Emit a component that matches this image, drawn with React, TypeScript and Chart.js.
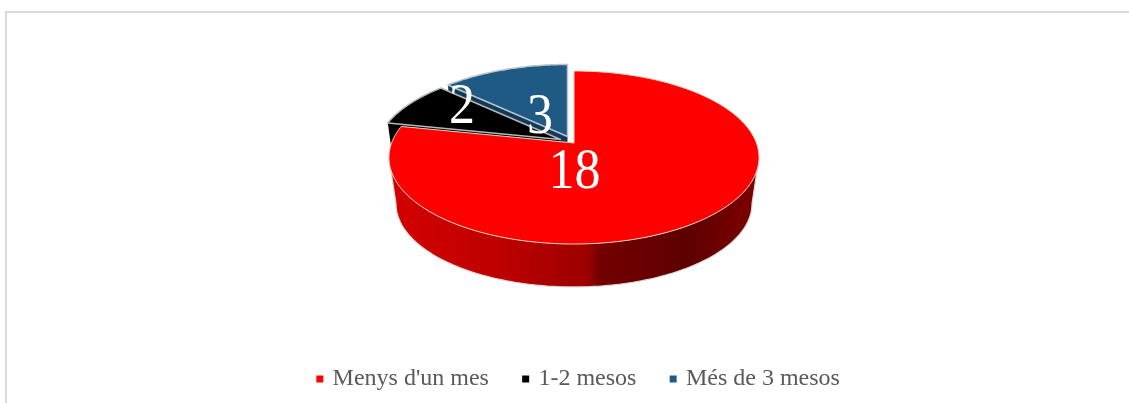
import React, { useEffect, useRef } from "react";
import { Chart, registerables, PieController } from "chart.js";

Chart.register(...registerables);

const categories = ["Menys d'un mes", "1-2 mesos", "Més de 3 mesos"];
const values = [18, 2, 3];
const sliceColors = ["#ff0000", "#000000", "#1f5a85"];
const wallColors = ["#a00000", "#000000", "#123a58"];
const sliceEdges = ["#f4d3c0", "#b4b8ba", "#b9c4cc"];

// Perspective projection of the unit disc to the page
const cx = 574;
const apexY = 143;
const kPersp = 0.1677;
const topA = 182.4;
const topB = 84.07;
const baseScale = 0.962;
const baseApexY = 189.8;
const explode = [[0, 0], [-13.5, -3.5], [-6.5, -6.5]];
const labelAnchors = [[574.5, 173], [462, 108.5], [540, 118.5]];

type Pt = [number, number];
function project(r: number, theta: number, base: boolean, off: number[]): Pt {
  const u = r * Math.sin(theta);
  const v = -r * Math.cos(theta);
  const d = 1 - kPersp * v;
  const s = base ? baseScale : 1;
  const y0 = base ? baseApexY : apexY;
  return [cx + off[0] + (s * topA * u) / d, y0 + off[1] + (s * topB * v) / d];
}

function trace(ctx: CanvasRenderingContext2D, pts: Pt[], close = true) {
  ctx.beginPath();
  pts.forEach((p, i) => (i ? ctx.lineTo(p[0], p[1]) : ctx.moveTo(p[0], p[1])));
  if (close) ctx.closePath();
}

function sweep(a0: number, a1: number): number[] {
  const steps = Math.max(8, Math.ceil(((a1 - a0) * 180) / Math.PI));
  return Array.from({ length: steps + 1 }, (_, k) => a0 + ((a1 - a0) * k) / steps);
}

const pie3d = {
  id: "pie3d",
  beforeDatasetDraw(chart: any, args: any) {
    const { ctx } = chart;
    const arcs = args.meta.data;
    const frontStart = Math.acos(-kPersp);
    const frontEnd = 2 * Math.PI - frontStart;
    ctx.save();
    ctx.lineJoin = "round";
    for (let i = arcs.length - 1; i >= 0; i--) {
      const arc = arcs[i];
      const a0 = arc.startAngle + Math.PI / 2;
      const a1 = arc.endAngle + Math.PI / 2;
      const off = explode[i];

      // radial wall at the slice start
      trace(ctx, [
        project(0, a0, false, off),
        project(1, a0, false, off),
        project(1, a0, true, off),
        project(0, a0, true, off),
      ]);
      ctx.fillStyle = wallColors[i];
      ctx.fill();

      // outer wall: only the part that faces the viewer
      const w0 = Math.max(a0, frontStart);
      const w1 = Math.min(a1, frontEnd);
      if (w1 > w0) {
        const angles = sweep(w0, w1);
        const up = angles.map((a) => project(1, a, false, off));
        const low = angles.map((a) => project(1, a, true, off));
        const g = ctx.createLinearGradient(389, 0, 759, 0);
        g.addColorStop(0, "#d40000");
        g.addColorStop(0.3, "#bd0000");
        g.addColorStop(0.54, "#9c0000");
        g.addColorStop(0.565, "#740000");
        g.addColorStop(0.8, "#5e0000");
        g.addColorStop(1, "#7e0000");
        trace(ctx, [...up, ...low.slice().reverse()]);
        ctx.fillStyle = i === 0 ? g : wallColors[i];
        ctx.fill();
        // light outline of the wall
        trace(ctx, [up[0], ...low, up[up.length - 1]], false);
        ctx.strokeStyle = "#d9d9d9";
        ctx.lineWidth = 1.2;
        ctx.stroke();
      }

      // top face
      const upper = sweep(a0, a1).map((a) => project(1, a, false, off));
      trace(ctx, [project(0, a0, false, off), ...upper]);
      ctx.fillStyle = arc.options.backgroundColor;
      ctx.fill();
      ctx.strokeStyle = sliceEdges[i];
      ctx.lineWidth = i === 0 ? 1 : 1.5;
      ctx.stroke();
    }
    ctx.restore();
    return false;
  },
  afterDatasetsDraw(chart: any) {
    const { ctx } = chart;
    ctx.save();
    ctx.fillStyle = "#ffffff";
    ctx.font = '52px "Liberation Serif"';
    ctx.textAlign = "center";
    ctx.textBaseline = "middle";
    values.forEach((v, i) => {
      ctx.save();
      ctx.translate(labelAnchors[i][0], labelAnchors[i][1]);
      ctx.scale(1, 1.08);
      ctx.fillText(String(v), 0, 0);
      ctx.restore();
    });
    ctx.restore();
  },
};

export default function App() {
  const ref = useRef<HTMLCanvasElement>(null);
  useEffect(() => {
    document.body.style.margin = "0";
    document.body.style.background = "#ffffff";
    const chart = new Chart(ref.current!, {
      type: "pie",
      data: {
        labels: categories,
        datasets: [
          {
            data: values,
            backgroundColor: sliceColors,
            borderColor: "#d9d9d9",
            borderWidth: 1.2,
          },
        ],
      },
      options: {
        responsive: false,
        animation: false,
        layout: { padding: { left: 30, bottom: 2 } },
        plugins: {
          tooltip: { enabled: false },
          legend: {
            position: "bottom",
            labels: {
              usePointStyle: true,
              pointStyle: "rect",
              boxWidth: 1.5,
              boxHeight: 7,
              padding: 36,
              color: "#595959",
              font: { family: '"Liberation Serif"', size: 24 },
              generateLabels(c: any) {
                return (PieController as any).overrides.plugins.legend.labels
                  .generateLabels(c)
                  .map((l: any) => ({ ...l, lineWidth: 0, strokeStyle: "transparent" }));
              },
            },
          },
        },
      },
      plugins: [pie3d],
    } as any);
    return () => chart.destroy();
  }, []);
  return (
    <div style={{ position: "fixed", left: 0, top: 0, width: 1129, height: 403, overflow: "hidden" }}>
      <div
        style={{
          position: "absolute",
          left: 5,
          top: 11,
          right: -5,
          bottom: -5,
          borderLeft: "2px solid #d9d9d9",
          borderTop: "2px solid #d9d9d9",
        }}
      />
      <canvas ref={ref} width={1129} height={403} style={{ position: "absolute", left: 0, top: 0, display: "block" }} />
    </div>
  );
}
